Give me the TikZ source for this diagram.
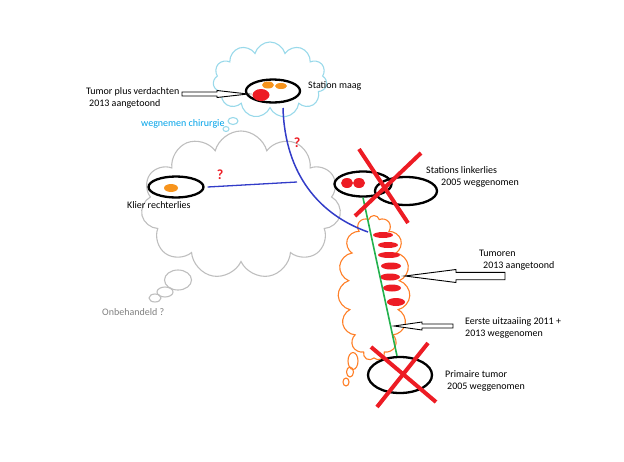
\documentclass[tikz,border=0pt]{standalone}
\usepackage{fontspec}
\setmainfont{Carlito}
\usetikzlibrary{shapes.geometric,shapes.symbols}
\definecolor{tred}{RGB}{237,28,36}
\definecolor{torange}{RGB}{255,127,39}
\definecolor{tdot}{RGB}{247,148,29}
\definecolor{tlblue}{RGB}{153,217,234}
\definecolor{tcyan}{RGB}{0,162,232}
\definecolor{tindigo}{RGB}{50,60,200}
\definecolor{tgreen}{RGB}{34,177,76}
\definecolor{tgray}{RGB}{190,190,190}
\definecolor{tgraytext}{RGB}{127,127,127}
\begin{document}
\begin{tikzpicture}[x=1pt,y=-1pt,
  lbl/.style={anchor=west,inner sep=0pt,font=\fontsize{10}{12}\selectfont,align=left},
  qmark/.style={inner sep=0pt,text=tred,font=\fontsize{14}{16}\selectfont\bfseries},
  ring/.style={ellipse,draw=black,line width=2.3pt,inner sep=0pt},
  dot/.style={ellipse,inner sep=0pt,fill=#1},
  cloudy/.style={cloud,draw=#1,inner sep=0pt,line width=1.1pt},
  bubble/.style={ellipse,draw=#1,inner sep=0pt,line width=1.1pt},
  cross/.style={draw=tred,line width=4pt},
  hollow/.style={draw=black,line width=0.9pt,fill=white,line join=miter},
]
\useasboundingbox (0,0) rectangle (624,461);

% ---- clouds ----
\node[cloudy=tlblue,cloud puffs=11,aspect=1.5,minimum width=114pt,minimum height=76pt] (bcloud) at (270,80) {};
\node[bubble=tlblue,minimum width=10pt,minimum height=7pt] (bb1) at (233,121) {};
\node[bubble=tlblue,minimum width=6pt,minimum height=5pt] (bb2) at (226,129) {};

\node[cloudy=tgray,cloud puffs=11,aspect=1.36,minimum width=200pt,minimum height=148pt] (gcloud) at (241,205) {};
\node[bubble=tgray,minimum width=27pt,minimum height=20pt] (gb1) at (178,280) {};
\node[bubble=tgray,minimum width=16pt,minimum height=10pt] (gb2) at (165,292) {};
\node[bubble=tgray,minimum width=12pt,minimum height=8pt] (gb3) at (155,298) {};

\node[cloudy=torange,cloud puffs=15,aspect=0.5,minimum width=72pt,minimum height=145pt] (ocloud) at (374,288) {};
\node[bubble=torange,minimum width=10pt,minimum height=17pt] (ob1) at (353,361) {};
\node[bubble=torange,minimum width=7pt,minimum height=10pt] (ob2) at (350,372) {};
\node[bubble=torange,minimum width=6pt,minimum height=8pt] (ob3) at (346,382) {};

% ---- station maag ----
\node[ring,minimum width=54pt,minimum height=23pt] (maag) at (273,91) {};
\node[dot=tdot,minimum width=12pt,minimum height=7pt] (m1) at (268,85) {};
\node[dot=tdot,minimum width=12pt,minimum height=6pt] (m2) at (281,86) {};
\node[dot=tred,minimum width=17pt,minimum height=12pt] (m3) at (261,95) {};
\node[lbl] (tmaag) at (308,86) {Station maag};
\node[lbl] (tplus) at (86,98) {Tumor plus verdachten\\\hspace{3pt}2013 aangetoond};
\node[lbl,text=tcyan] (tweg) at (141,124) {wegnemen chirurgie};

% ---- klier rechterlies ----
\node[ring,minimum width=55pt,minimum height=21pt] (klier) at (176,187) {};
\node[dot=tdot,minimum width=14pt,minimum height=8pt] (k1) at (171,188) {};
\node[lbl] (tklier) at (127,205) {Klier rechterlies};
\node[qmark] (q1) at (220,175) {?};
\node[qmark] (q2) at (297,143) {?};
\node[lbl,text=tgraytext] (tonb) at (102,312) {Onbehandeld ?};

% ---- stations linkerlies ----
\node[ring,minimum width=57pt,minimum height=25pt] (lk1) at (363,184) {};
\node[ring,minimum width=62pt,minimum height=28pt] (lk2) at (406,191) {};
\node[dot=tred,minimum width=12pt,minimum height=10pt] (l1) at (347,183) {};
\node[dot=tred,minimum width=12pt,minimum height=10pt] (l2) at (359,183) {};
\node[lbl] (tlk) at (426,177) {Stations linkerlies\\\hspace{15pt}2005 weggenomen};

% ---- primary tumor ----
\node[ring,minimum width=64pt,minimum height=36pt] (prim) at (400,375) {};
\node[lbl] (tprim) at (445,381) {Primaire tumor\\\hspace{2pt}2005 weggenomen};

% ---- tumors ----
\node[dot=tred,minimum width=20pt,minimum height=6pt] (t1) at (383,235) {};
\node[dot=tred,minimum width=20pt,minimum height=6pt] (t2) at (388,245) {};
\node[dot=tred,minimum width=22pt,minimum height=6pt] (t3) at (389,255) {};
\node[dot=tred,minimum width=20pt,minimum height=7pt] (t4) at (391,266) {};
\node[dot=tred,minimum width=20pt,minimum height=7pt] (t5) at (390,277) {};
\node[dot=tred,minimum width=18pt,minimum height=7pt] (t6) at (392,288) {};
\node[dot=tred,minimum width=18pt,minimum height=8pt] (t7) at (396,302) {};
\node[lbl] (ttum) at (479,260) {Tumoren\\\hspace{4pt}2013 aangetoond};
\node[lbl] (teerst) at (465,328) {Eerste uitzaaiing 2011 +\\2013 weggenomen};

% ---- connectors ----
\coordinate (bstart) at (283,108);
\coordinate (bend) at (368,232);
\draw[tindigo,line width=1.5pt] (bstart) .. controls (285,175) and (320,215) .. (bend);
\coordinate (kend) at (297,182);
\draw[tindigo,line width=1.3pt] ([xshift=3pt]klier.east) -- (kend);
\draw[tgreen,line width=1.6pt] (lk1.south) -- ([xshift=-3pt]prim.north);

% red crosses
\draw[cross] (359,149) -- (408,223);
\draw[cross] (421,153) -- (355,216);
\draw[cross] (371,347) -- (436,402);
\draw[cross] (428,343) -- (377,407);

% hollow arrows
\coordinate (a1) at (248,94);
\draw[hollow] (a1) -- ++(-31,-3.5) -- ++(0,1.5) -- ++(-35,0) -- ++(0,4) -- ++(35,0) -- ++(0,1.5) -- cycle;
\coordinate (a2) at (405,276);
\draw[hollow] (a2) -- ++(51,-6.5) -- ++(0,2.8) -- ++(49,0) -- ++(0,7.4) -- ++(-49,0) -- ++(0,2.8) -- cycle;
\coordinate (a3) at (394,326);
\draw[hollow] (a3) -- ++(28,-4) -- ++(0,2) -- ++(31,0) -- ++(0,4) -- ++(-31,0) -- ++(0,2) -- cycle;
\end{tikzpicture}
\end{document}
